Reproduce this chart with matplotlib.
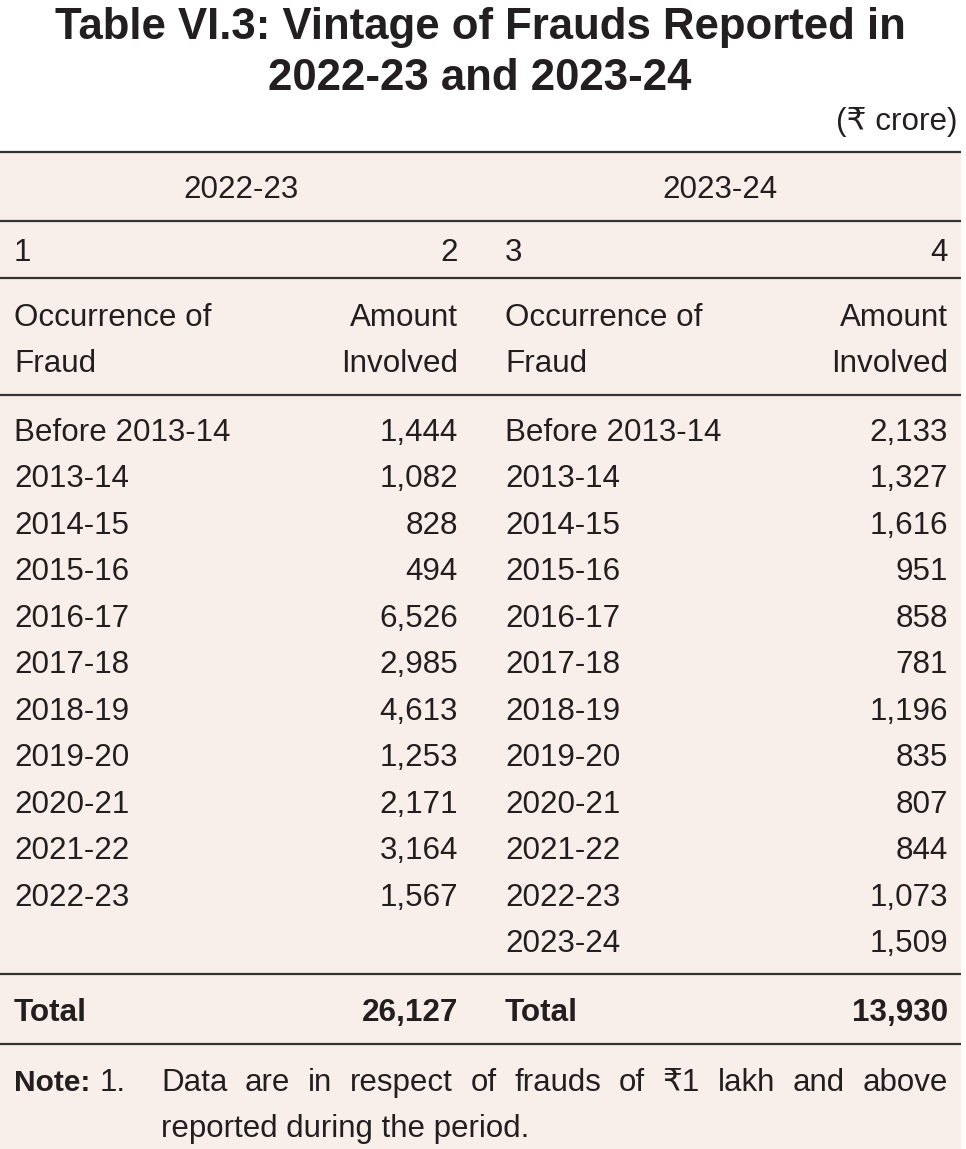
import matplotlib
matplotlib.use("Agg")
import matplotlib.pyplot as plt
from matplotlib.patches import Rectangle

# ---------------- data ----------------
title_lines = ["Table VI.3: Vintage of Frauds Reported in", "2022-23 and 2023-24"]
unit_label = "(₹ crore)"
period_headers = ["2022-23", "2023-24"]
col_numbers = ["1", "2", "3", "4"]
col_header_left = ["Occurrence of", "Fraud"]
col_header_right = ["Amount", "Involved"]

vintage_2223 = ["Before 2013-14", "2013-14", "2014-15", "2015-16", "2016-17", "2017-18",
                "2018-19", "2019-20", "2020-21", "2021-22", "2022-23"]
amount_2223 = [1444, 1082, 828, 494, 6526, 2985, 4613, 1253, 2171, 3164, 1567]

vintage_2324 = ["Before 2013-14", "2013-14", "2014-15", "2015-16", "2016-17", "2017-18",
                "2018-19", "2019-20", "2020-21", "2021-22", "2022-23", "2023-24"]
amount_2324 = [2133, 1327, 1616, 951, 858, 781, 1196, 835, 807, 844, 1073, 1509]

total_label = "Total"
total_2223 = 26127
total_2324 = 13930

note_label = "Note:"
note_number = "1."
note_line1 = "Data are in respect of frauds of ₹1 lakh and above"
note_line2 = "reported during the period."

# ---------------- style ----------------
W, H = 966, 1149
BG = "#f8efea"
TXT = "#231f20"
LINE = "#333333"
FAM = ["Liberation Sans", "DejaVu Sans"]
FAM_N = ["Liberation Sans Narrow", "Liberation Sans", "DejaVu Sans"]
FS = 22.6
DY = 3

fig = plt.figure(figsize=(W / 100, H / 100), dpi=100)
ax = fig.add_axes([0, 0, 1, 1])
ax.set_xlim(0, W)
ax.set_ylim(H, 0)
ax.axis("off")

ax.add_patch(Rectangle((0, 152), 961, H - 152, facecolor=BG, edgecolor="none", zorder=0))

# title
ax.text(480, 25 + DY, title_lines[0], ha="center", va="center", fontsize=31.5, fontweight="bold",
        family=FAM, color=TXT)
ax.text(480, 75 + DY, title_lines[1], ha="center", va="center", fontsize=31.5, fontweight="bold",
        family=FAM, color=TXT)
ax.text(958, 119 + DY, unit_label, ha="right", va="center", fontsize=FS, family=FAM, color=TXT)

# horizontal rules
for y in [152, 221, 278, 395, 974, 1044]:
    ax.plot([0, 961], [y, y], color=LINE, lw=1.6, solid_capstyle="butt", zorder=2)

xl1, xr1, xl2, xr2 = 14, 458, 505, 948

def t(x, y, s, ha="left", **kw):
    return ax.text(x, y + DY, s, ha=ha, va="center", fontsize=kw.pop("fs", FS),
                   family=kw.pop("family", FAM), color=TXT, **kw)

t(241, 187, period_headers[0], ha="center")
t(720, 187, period_headers[1], ha="center")

t(xl1, 250, col_numbers[0])
t(xr1, 250, col_numbers[1], ha="right")
t(xl2, 250, col_numbers[2])
t(xr2, 250, col_numbers[3], ha="right")

for i, (a, b) in enumerate(zip(col_header_left, col_header_right)):
    y = 315 + i * 46
    t(xl1, y, a)
    t(xr1, y, b, ha="right")
    t(xl2, y, a)
    t(xr2, y, b, ha="right")

row0, step = 430, 46.45
for i, (v, a) in enumerate(zip(vintage_2223, amount_2223)):
    y = row0 + i * step
    t(xl1, y, v)
    t(xr1, y, f"{a:,}", ha="right")
for i, (v, a) in enumerate(zip(vintage_2324, amount_2324)):
    y = row0 + i * step
    t(xl2, y, v)
    t(xr2, y, f"{a:,}", ha="right")

# total
TFS = 22.7
t(xl1, 1010, total_label, fontweight="bold", family=FAM_N, fs=TFS)
t(xr1, 1010, f"{total_2223:,}", ha="right", fontweight="bold", family=FAM_N, fs=TFS)
t(xl2, 1010, total_label, fontweight="bold", family=FAM_N, fs=TFS)
t(xr2, 1010, f"{total_2324:,}", ha="right", fontweight="bold", family=FAM_N, fs=TFS)

# note (justified first line)
NFS = 22.5
t(xl1, 1080, note_label, fontweight="bold", family=FAM_N, fs=21.5)
t(100, 1080, note_number, family=FAM_N, fs=NFS)
fig.canvas.draw()
r = fig.canvas.get_renderer()
words = note_line1.split()
arts = [t(0, 1080, w, family=FAM_N, fs=NFS) for w in words]
inv = ax.transData.inverted()
widths = []
for a in arts:
    bb = a.get_window_extent(renderer=r)
    x0 = inv.transform((bb.x0, 0))[0]
    x1 = inv.transform((bb.x1, 0))[0]
    widths.append(x1 - x0)
start, end = 161, 948
gap = (end - start - sum(widths)) / (len(words) - 1)
x = start
for a, w in zip(arts, widths):
    a.set_x(x)
    x += w + gap
t(161, 1126, note_line2, family=FAM_N, fs=NFS)

fig.savefig("out.png", dpi=100, facecolor="white")
